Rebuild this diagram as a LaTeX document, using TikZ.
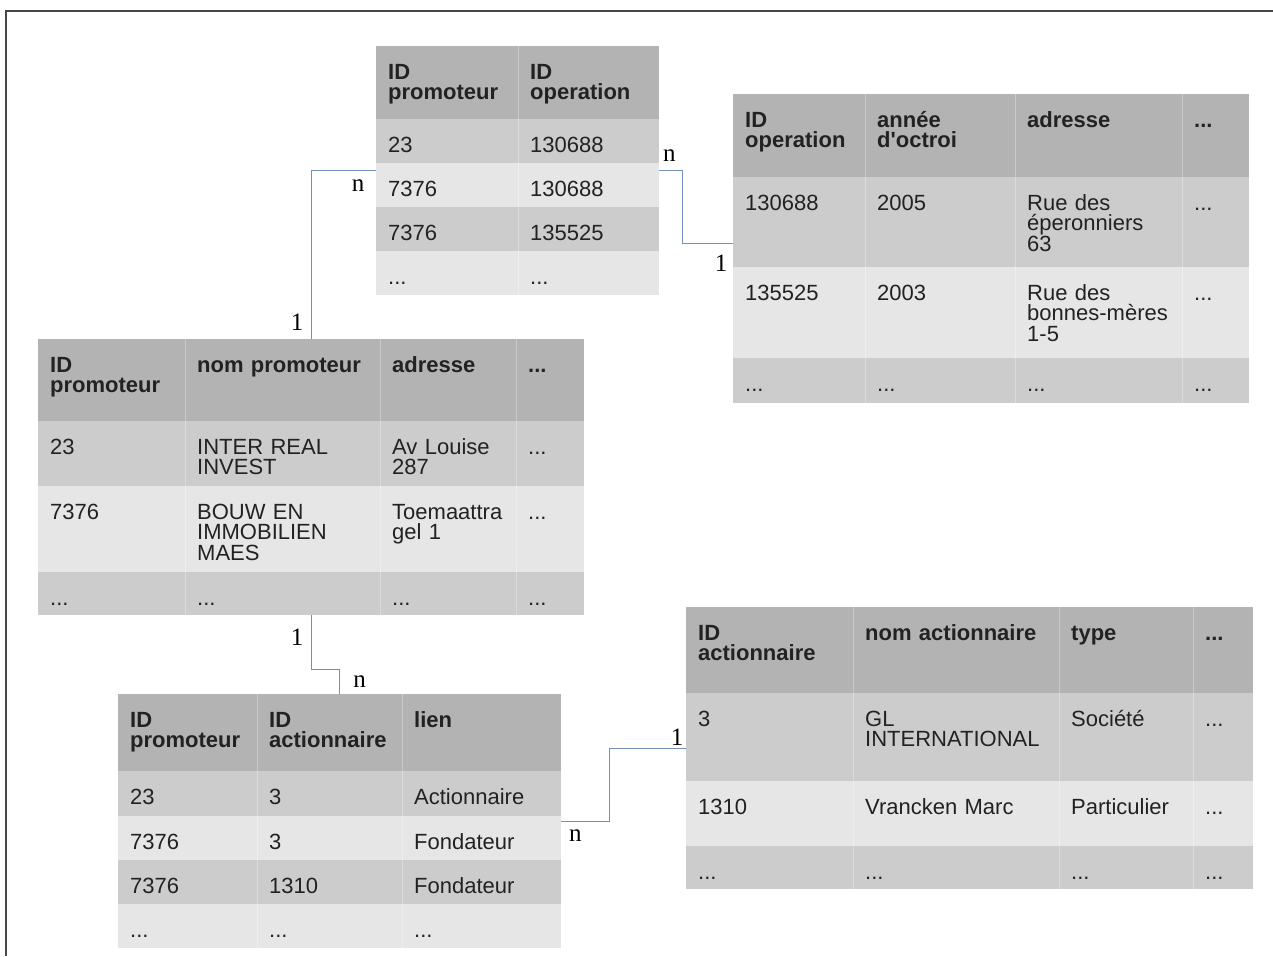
\documentclass[tikz,border=0pt]{standalone}
\usepackage{fontspec}
\setmainfont{Liberation Sans}
\newfontfamily\cardfont{Liberation Serif}
\usetikzlibrary{matrix}
\hyphenpenalty=10000 \exhyphenpenalty=10000 \hbadness=10000 \hfuzz=6pt
\newcommand{\cellfont}{\fontsize{22pt}{20.5pt}\selectfont}
\definecolor{hdrgray}{RGB}{179,179,179}
\definecolor{darkrow}{RGB}{204,204,204}
\definecolor{lightrow}{RGB}{230,230,230}
\definecolor{linkblue}{RGB}{114,144,184}
\definecolor{celltext}{RGB}{34,34,34}
\definecolor{framegray}{RGB}{70,70,70}
\tikzstyle{cell} = [inner xsep=12pt, inner ysep=0pt, outer sep=0pt,
    align=left, text height=33pt, font=\cellfont, text=celltext]
\tikzstyle{tbl} = [matrix of nodes, anchor=north west, inner sep=0pt,
    row sep=0pt, column sep=0pt, nodes={cell}]
\tikzstyle{colsep} = [draw=white, draw opacity=0.3, line width=1pt]
\tikzstyle{link} = [draw=linkblue, line width=1.4pt]
\tikzstyle{card} = [font=\cardfont\fontsize{25pt}{30pt}\selectfont, inner sep=0pt]
\tikzstyle{frame} = [draw=framegray, line width=1.2pt]
\tikzset{
  hdr/.style={nodes={fill=hdrgray, font=\cellfont\bfseries, text depth=#1}},
  dark/.style={nodes={fill=darkrow, text depth=#1}},
  light/.style={nodes={fill=lightrow, text depth=#1}}
}

\begin{document}
\begin{tikzpicture}[x=1pt, y=-1pt]
    \useasboundingbox (0,0) rectangle (1273,956);
    \draw [frame] (1273,11) -- (6,11) -- (6,956);

    % liens promoteur - operation
    \matrix (promo_op) [tbl,
        column 1/.style={nodes={text width=118pt}},
        column 2/.style={nodes={text width=117pt}},
        row 1/.style={hdr=40pt}, row 2/.style={dark=11pt}, row 3/.style={light=11pt},
        row 4/.style={dark=11pt}, row 5/.style={light=11pt}] at (376,46) {
        {ID\newline promoteur} & {ID\newline operation} \\
        23 & 130688 \\
        7376 & 130688 \\
        7376 & 135525 \\
        ... & ... \\
    };

    % operations
    \matrix (operation) [tbl,
        column 1/.style={nodes={text width=108pt}},
        column 2/.style={nodes={text width=126pt}},
        column 3/.style={nodes={text width=143pt}},
        column 4/.style={nodes={text width=43pt}},
        row 1/.style={hdr=50pt}, row 2/.style={dark=57pt}, row 3/.style={light=58pt},
        row 4/.style={dark=12pt}] at (733,94) {
        {ID\newline operation} & {année\newline d\textquotesingle octroi} & adresse & ... \\
        130688 & 2005 & {Rue des\newline éperonniers\newline 63} & ... \\
        135525 & 2003 & {Rue des\newline bonnes-mères\newline 1-5} & ... \\
        ... & ... & ... & ... \\
    };

    % promoteurs
    \matrix (promoteur) [tbl,
        column 1/.style={nodes={text width=123pt}},
        column 2/.style={nodes={text width=171pt}},
        column 3/.style={nodes={text width=112pt}},
        column 4/.style={nodes={text width=44pt}},
        row 1/.style={hdr=49pt}, row 2/.style={dark=32pt}, row 3/.style={light=53pt},
        row 4/.style={dark=10pt}] at (38,339) {
        {ID\newline promoteur} & nom promoteur & adresse & ... \\
        23 & {INTER REAL\newline INVEST} & {Av Louise\newline 287} & ... \\
        7376 & {BOUW EN\newline IMMOBILIEN\newline MAES} & {Toemaattra\newline gel 1} & ... \\
        ... & ... & ... & ... \\
    };

    % liens promoteur - actionnaire
    \matrix (promo_act) [tbl,
        column 1/.style={nodes={text width=115pt}},
        column 2/.style={nodes={text width=121pt}},
        column 3/.style={nodes={text width=135pt}},
        row 1/.style={hdr=44pt}, row 2/.style={dark=12pt}, row 3/.style={light=11pt},
        row 4/.style={dark=11pt}, row 5/.style={light=11pt}] at (118,694) {
        {ID\newline promoteur} & {ID\newline actionnaire} & lien \\
        23 & 3 & Actionnaire \\
        7376 & 3 & Fondateur \\
        7376 & 1310 & Fondateur \\
        ... & ... & ... \\
    };

    % actionnaires
    \matrix (actionnaire) [tbl,
        column 1/.style={nodes={text width=143pt}},
        column 2/.style={nodes={text width=182pt}},
        column 3/.style={nodes={text width=110pt}},
        column 4/.style={nodes={text width=36pt}},
        row 1/.style={hdr=53pt}, row 2/.style={dark=55pt}, row 3/.style={light=32pt},
        row 4/.style={dark=10pt}] at (686,607) {
        {ID\newline actionnaire} & nom actionnaire & type & ... \\
        3 & {GL\newline INTERNATIONAL} & Société & ... \\
        1310 & Vrancken Marc & Particulier & ... \\
        ... & ... & ... & ... \\
    };

    % column separators
    \draw [colsep] (promo_op-1-1.north east) -- (promo_op-5-1.south east);
    \foreach \c in {1,2,3} {
        \draw [colsep] (operation-1-\c.north east) -- (operation-4-\c.south east);
        \draw [colsep] (promoteur-1-\c.north east) -- (promoteur-4-\c.south east);
        \draw [colsep] (actionnaire-1-\c.north east) -- (actionnaire-4-\c.south east);
    }
    \foreach \c in {1,2}
        \draw [colsep] (promo_act-1-\c.north east) -- (promo_act-5-\c.south east);

    % links
    \draw [link] (promoteur.north) |- (promo_op.west);
    \draw [link] (promo_op.east) -- ++(23,0) |- ([yshift=5pt]operation.west);
    \draw [link] (promoteur.south) -- ++(0,54) -| (promo_act.north);
    \draw [link] (promo_act.east) -- ++(48,0) |- (actionnaire.west);

    \node [card] (card_pr_top) at ([xshift=-14pt,yshift=17pt]promoteur.north) {1};
    \node [card] (card_po_left) at ([xshift=-18pt,yshift=-15pt]promo_op.west) {n};
    \node [card] (card_po_right) at ([xshift=10pt,yshift=15pt]promo_op.east) {n};
    \node [card] (card_op) at ([xshift=-12pt,yshift=-15pt]operation.west) {1};
    \node [card] (card_pr_bot) at ([xshift=-14pt,yshift=-22pt]promoteur.south) {1};
    \node [card] (card_pa_top) at ([xshift=20pt,yshift=12pt]promo_act.north) {n};
    \node [card] (card_pa_right) at ([xshift=14pt,yshift=-14pt]promo_act.east) {n};
    \node [card] (card_act) at ([xshift=-9pt,yshift=11pt]actionnaire.west) {1};
\end{tikzpicture}
\end{document}
